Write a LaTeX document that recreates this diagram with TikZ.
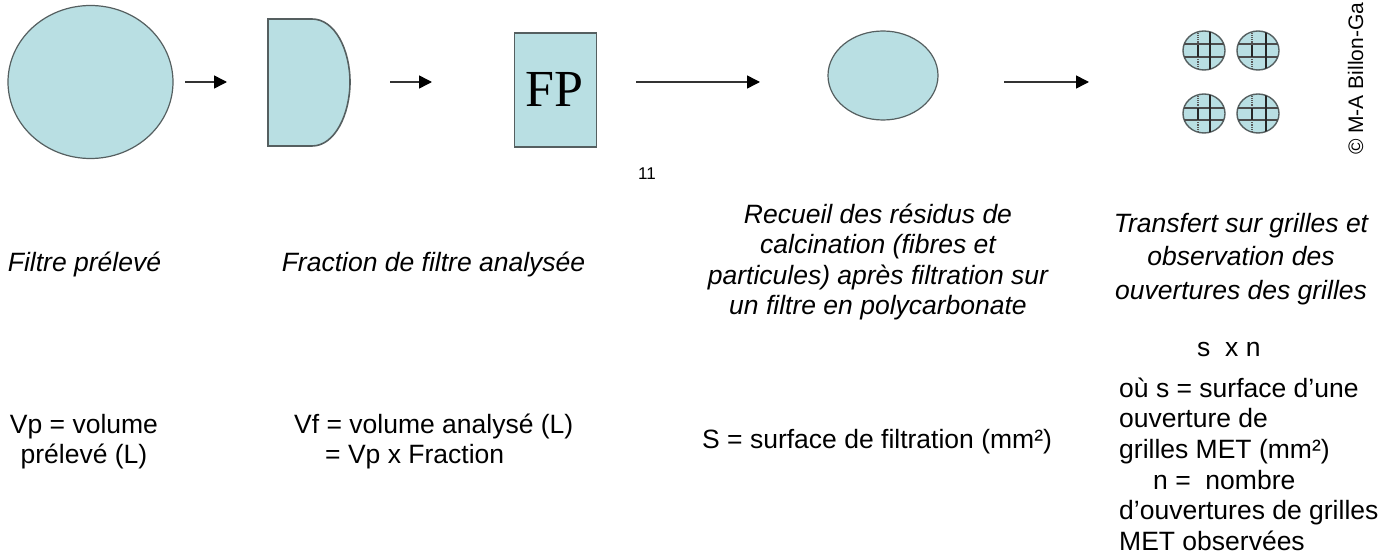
\documentclass[tikz,border=0pt]{standalone}
\usepackage{fontspec}
\setmainfont{Liberation Sans}
\usetikzlibrary{arrows.meta}
\definecolor{fillc}{HTML}{B9DFE3}
\definecolor{linec}{HTML}{555F60}
\newcommand{\tp}{\rule{0pt}{22pt}}
\tikzset{
  shp/.style={draw=linec,fill=fillc,line width=1.2pt},
  flow/.style={draw=black!80,line width=1.5pt,-{Triangle[length=13pt,width=13pt,fill=black,color=black]}},
  txt/.style={inner sep=0pt,anchor=north,align=center,font=\fontsize{26.5}{30.6}\selectfont},
  txl/.style={inner sep=0pt,anchor=north west,align=left,font=\fontsize{26.5}{30.6}\selectfont},
  captxt/.style={txt,font=\fontsize{26.5}{30.6}\selectfont\itshape},
}
\begin{document}
\begin{tikzpicture}[x=1pt,y=-1pt]
\useasboundingbox (0,0) rectangle (1393,556);
\fill[white] (0,0) rectangle (1393,556);
% shapes
\draw[shp] (90.5,82) ellipse [x radius=82.5,y radius=76.5];
\draw[shp,line width=1.6pt] (268,19) -- (312,19) .. controls (335,19) and (350,50) .. (350,82) .. controls (350,114) and (335,146) .. (312,146) -- (268,146) -- cycle;
\node[shp,line width=1.6pt,minimum width=82pt,minimum height=114pt,inner sep=0pt,anchor=north west] (fp) at (513.5,32) {};
\node[inner sep=0pt,font=\fontsize{52}{52}\selectfont] (fpt) at (554.5,89) {\fontspec{Liberation Serif}FP};
\draw[shp] (883,75.5) ellipse [x radius=55,y radius=44.5];
% grids
\foreach \cx/\va/\vb in {1204/1198/1210,1258/1252/1266}{
  \foreach \cy/\ha/\hb in {50.5/44/57,113.5/108/120}{
    \begin{scope}
      \draw[shp,line width=1.4pt] (\cx,\cy) ellipse [x radius=21,y radius=19.5];
      \clip (\cx,\cy) ellipse [x radius=21,y radius=19.5];
      \draw[black!70,line width=1.2pt] (\cx-21,\ha) -- (\cx+21,\ha) (\cx-21,\hb) -- (\cx+21,\hb);
      \draw[black!85,line width=1.2pt] (\vb,\cy-20) -- (\vb,\cy+20);
      \draw[black!85,line width=1.2pt] (\va,\ha) -- (\va,\hb);
      \draw[black!65,line width=1.2pt,densely dotted] (\va,\cy-20) -- (\va,\ha) (\va,\hb) -- (\va,\cy+20);
    \end{scope}
  }
}
% arrows
\coordinate (a1) at (185,82); \coordinate (b1) at (227,82);
\coordinate (a2) at (390,82); \coordinate (b2) at (432,82);
\coordinate (a3) at (636,82); \coordinate (b3) at (760,82);
\coordinate (a4) at (1004,82); \coordinate (b4) at (1089,82);
\draw[flow] (a1) -- (b1);
\draw[flow] (a2) -- (b2);
\draw[flow] (a3) -- (b3);
\draw[flow] (a4) -- (b4);
% texts
\node[inner sep=0pt,anchor=base,font=\fontsize{17}{17}\selectfont] (pg) at (647,180) {11};
\node[inner sep=0pt,rotate=90,anchor=base west,font=\fontsize{21}{24}\selectfont] (cr) at (1363,155) {© M-A Billon-Ga};
\node[captxt] (c1) at (84.5,249) {\tp Filtre prélevé};
\node[captxt] (c2) at (433.5,249) {\tp Fraction de filtre analysée};
\node[captxt] (c3) at (878,201) {\tp Recueil des résidus de\\calcination (fibres et\\particules) après filtration sur\\un filtre en polycarbonate};
\node[captxt,font=\fontsize{26.5}{33.5}\selectfont\itshape] (c4) at (1241,210) {\tp Transfert sur grilles et\\observation des\\ouvertures des grilles};
\node[txt] (v1) at (84,411) {\tp Vp = volume\\ prélevé (L)};
\node[txl] (v2) at (294,411) {\tp Vf = volume analysé (L)\\\hspace*{31pt}= Vp x Fraction};
\node[txl] (v3) at (702,426) {\tp S = surface de filtration (mm²)};
\node[txl] (s) at (1197,334) {\tp s\ \ x n};
\node[txl] (v4) at (1119,375) {\tp où s = surface d’une\\ouverture de\\grilles MET (mm²)\\\hspace*{34pt}n =\ \ nombre\\d’ouvertures de grilles\\MET observées};
\end{tikzpicture}
\end{document}
